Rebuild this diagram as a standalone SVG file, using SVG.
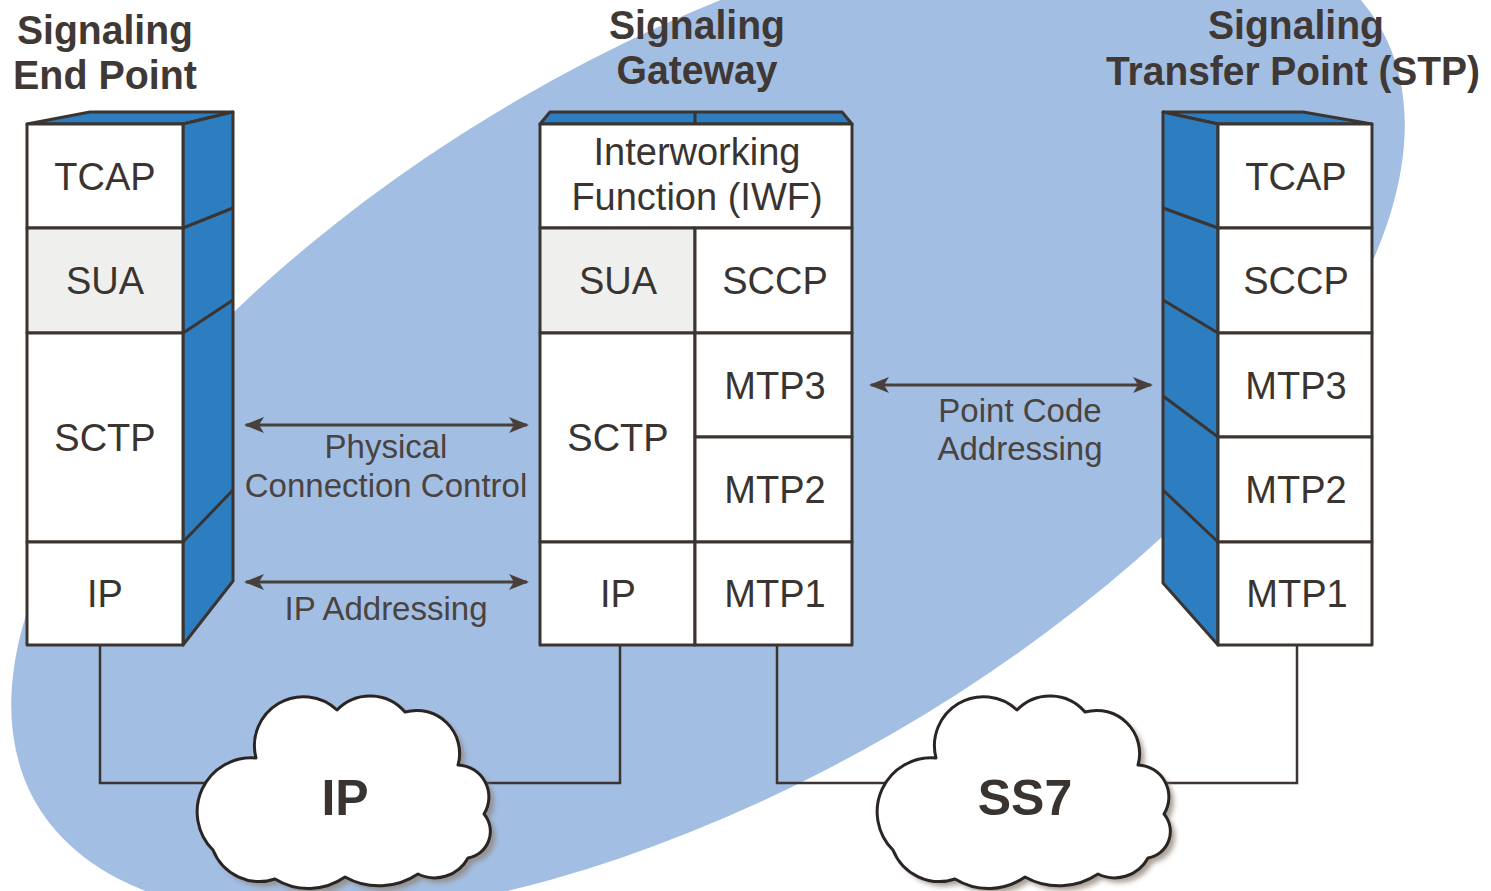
<svg xmlns="http://www.w3.org/2000/svg" width="1491" height="891" viewBox="0 0 1491 891">
  <defs>
    <style>
      .bg { fill: #ffffff; }
      .halo { fill: #a2bee3; }
      .face { fill: #ffffff; stroke: #3b3431; stroke-width: 3; stroke-linejoin: round; }
      .gray { fill: #efefed; }
      .side { fill: #2d7dc1; stroke: #3b3431; stroke-width: 3; stroke-linejoin: round; }
      .edge { fill: none; stroke: #3b3431; stroke-width: 3; }
      .wire { fill: none; stroke: #3b3431; stroke-width: 2.5; }
      .arrow { fill: none; stroke: #4a403b; stroke-width: 3; marker-start: url(#head); marker-end: url(#head); }
      .layer { font-family: "Liberation Sans", Arial, sans-serif; font-size: 38px; fill: #3a3431; text-anchor: middle; }
      .note { font-family: "Liberation Sans", Arial, sans-serif; font-size: 33px; fill: #4a4340; text-anchor: middle; }
      .title { font-family: "Liberation Sans", Arial, sans-serif; font-size: 41px; font-weight: bold; fill: #3f3834; text-anchor: middle; }
      .cloudtxt { font-family: "Liberation Sans", Arial, sans-serif; font-size: 50px; font-weight: bold; fill: #3a3431; text-anchor: middle; }
      .cloud { fill: #ffffff; stroke: #2a2523; stroke-width: 3; stroke-linejoin: round; }
      .cloudshade { fill: #8f8276; opacity: 0.75; }
    </style>
    <marker id="head" viewBox="0 0 20 16" refX="18" refY="8" markerWidth="20" markerHeight="16" markerUnits="userSpaceOnUse" orient="auto-start-reverse">
      <path d="M0,0 L20,8 L0,16 L5,8 z" fill="#4a403b"/>
    </marker>
    <filter id="soft" x="-10%" y="-10%" width="120%" height="120%">
      <feGaussianBlur stdDeviation="2.5"/>
    </filter>
    <!-- cloud outline built from outward arcs between the notches -->
    <path id="cloudShape" d="M213,850 A54,54 0 0 1 256,758 A49,49 0 0 1 337,710 A46,46 0 0 1 405,712 A43,43 0 0 1 458,765 A32,32 0 0 1 484,814 A27,27 0 0 1 468,858 A38,38 0 0 1 418,874 A70,70 0 0 1 345,877 A64,64 0 0 1 275,879 A50,50 0 0 1 213,850 Z"/>
  </defs>

  <rect class="bg" x="0" y="0" width="1491" height="891"/>

  <!-- tilted backdrop around the gateway -->
  <ellipse class="halo" cx="708" cy="415" rx="776" ry="368" transform="rotate(-30 708 415)"/>

  <!-- connectors -->
  <g id="connectors">
    <polyline class="wire" points="100,645 100,783 240,783"/>
    <polyline class="wire" points="470,783 620,783 620,645"/>
    <polyline class="wire" points="777,645 777,783 900,783"/>
    <polyline class="wire" points="1150,783 1297,783 1297,645"/>
    <line class="arrow" x1="246" y1="425" x2="527" y2="425"/>
    <line class="arrow" x1="246" y1="582" x2="527" y2="582"/>
    <line class="arrow" x1="871" y1="385" x2="1151" y2="385"/>
  </g>

  <!-- arrow captions -->
  <g id="labels">
    <text class="note" x="386" y="458">Physical</text>
    <text class="note" x="386" y="497">Connection Control</text>
    <text class="note" x="386" y="620">IP Addressing</text>
    <text class="note" x="1020" y="422">Point Code</text>
    <text class="note" x="1020" y="460">Addressing</text>
  </g>

  <!-- Signaling End Point -->
  <g id="end-point">
    <text class="title" x="105" y="44" textLength="176" lengthAdjust="spacingAndGlyphs">Signaling</text>
    <text class="title" x="105" y="89" textLength="184" lengthAdjust="spacingAndGlyphs">End Point</text>
    <polygon class="side" points="27,124 90,112 233,112 183,124"/>
    <polygon class="side" points="183,124 233,112 233,581 183,645"/>
    <line class="edge" x1="183" y1="228" x2="233" y2="208"/>
    <line class="edge" x1="183" y1="333" x2="233" y2="300"/>
    <line class="edge" x1="183" y1="542" x2="233" y2="490"/>
    <rect class="face" x="27" y="124" width="156" height="104"/>
    <rect class="face gray" x="27" y="228" width="156" height="105"/>
    <rect class="face" x="27" y="333" width="156" height="209"/>
    <rect class="face" x="27" y="542" width="156" height="103"/>
    <text class="layer" x="105" y="190">TCAP</text>
    <text class="layer" x="105" y="294">SUA</text>
    <text class="layer" x="105" y="451">SCTP</text>
    <text class="layer" x="105" y="607">IP</text>
  </g>

  <!-- Signaling Gateway -->
  <g id="gateway">
    <text class="title" x="697" y="39" textLength="176" lengthAdjust="spacingAndGlyphs">Signaling</text>
    <text class="title" x="697" y="84" textLength="161" lengthAdjust="spacingAndGlyphs">Gateway</text>
    <polygon class="side" points="540,124 550,112 842,112 852,124"/>
    <line class="edge" x1="695" y1="112" x2="695" y2="124"/>
    <rect class="face" x="540" y="124" width="312" height="104"/>
    <rect class="face gray" x="540" y="228" width="155" height="105"/>
    <rect class="face" x="695" y="228" width="157" height="105"/>
    <rect class="face" x="540" y="333" width="155" height="209"/>
    <rect class="face" x="695" y="333" width="157" height="104"/>
    <rect class="face" x="695" y="437" width="157" height="105"/>
    <rect class="face" x="540" y="542" width="155" height="103"/>
    <rect class="face" x="695" y="542" width="157" height="103"/>
    <text class="layer" x="697" y="165">Interworking</text>
    <text class="layer" x="697" y="210">Function (IWF)</text>
    <text class="layer" x="618" y="294">SUA</text>
    <text class="layer" x="775" y="294">SCCP</text>
    <text class="layer" x="618" y="451">SCTP</text>
    <text class="layer" x="775" y="399">MTP3</text>
    <text class="layer" x="775" y="503">MTP2</text>
    <text class="layer" x="618" y="607">IP</text>
    <text class="layer" x="775" y="607">MTP1</text>
  </g>

  <!-- Signaling Transfer Point -->
  <g id="stp">
    <text class="title" x="1296" y="39" textLength="176" lengthAdjust="spacingAndGlyphs">Signaling</text>
    <text class="title" x="1293" y="85" textLength="374" lengthAdjust="spacingAndGlyphs">Transfer Point (STP)</text>
    <polygon class="side" points="1163,112 1303,112 1372,124 1218,124"/>
    <polygon class="side" points="1163,112 1218,124 1218,645 1163,583"/>
    <line class="edge" x1="1218" y1="228" x2="1163" y2="208"/>
    <line class="edge" x1="1218" y1="333" x2="1163" y2="300"/>
    <line class="edge" x1="1218" y1="437" x2="1163" y2="396"/>
    <line class="edge" x1="1218" y1="542" x2="1163" y2="490"/>
    <rect class="face" x="1218" y="124" width="154" height="104"/>
    <rect class="face" x="1218" y="228" width="154" height="105"/>
    <rect class="face" x="1218" y="333" width="154" height="104"/>
    <rect class="face" x="1218" y="437" width="154" height="105"/>
    <rect class="face" x="1218" y="542" width="154" height="103"/>
    <text class="layer" x="1296" y="190">TCAP</text>
    <text class="layer" x="1296" y="294">SCCP</text>
    <text class="layer" x="1296" y="399">MTP3</text>
    <text class="layer" x="1296" y="503">MTP2</text>
    <text class="layer" x="1297" y="607">MTP1</text>
  </g>

  <!-- IP network cloud -->
  <g id="ip-cloud">
    <use href="#cloudShape" class="cloudshade" transform="translate(5,5)" filter="url(#soft)"/>
    <use href="#cloudShape" class="cloud"/>
    <text class="cloudtxt" x="345" y="815">IP</text>
  </g>

  <!-- SS7 network cloud -->
  <g id="ss7-cloud">
    <use href="#cloudShape" class="cloudshade" transform="translate(685,5)" filter="url(#soft)"/>
    <use href="#cloudShape" class="cloud" transform="translate(680,0)"/>
    <text class="cloudtxt" x="1025" y="815">SS7</text>
  </g>
</svg>
